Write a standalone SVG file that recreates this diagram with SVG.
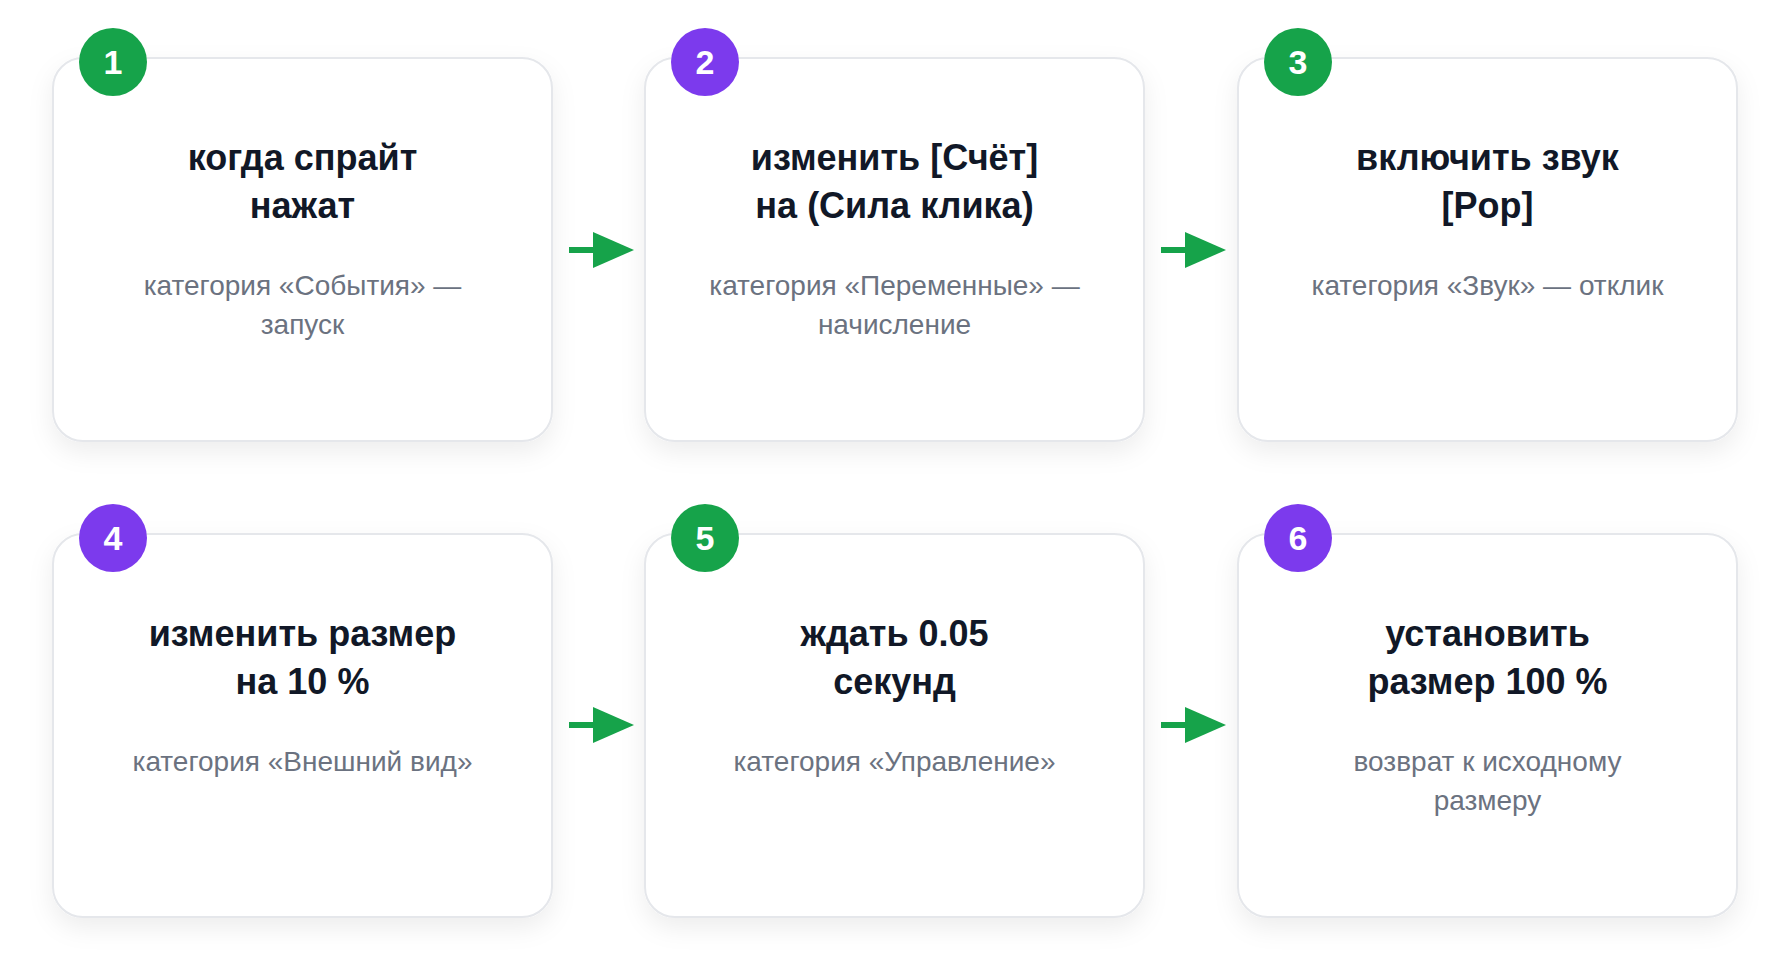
<svg xmlns="http://www.w3.org/2000/svg" width="1790" height="977" viewBox="0 0 1790 977">
<defs>
<filter id="sh" x="-20%" y="-20%" width="140%" height="150%">
<feDropShadow dx="0" dy="10" stdDeviation="12" flood-color="#0f172a" flood-opacity="0.07"/>
</filter>
<style>
.card{fill:#ffffff;stroke:#e5e7eb;stroke-width:2;filter:url(#sh)}
.t{font-family:"Liberation Sans",Arial,sans-serif;font-weight:700;font-size:36px;fill:#111827;text-anchor:middle}
.s{font-family:"Liberation Sans",Arial,sans-serif;font-size:28px;fill:#6b7280;text-anchor:middle}
.bn{font-family:"Liberation Sans",Arial,sans-serif;font-weight:700;font-size:34px;fill:#ffffff;text-anchor:middle}
.g{fill:#16a34a}
.p{fill:#7c3aed}
.ar{stroke:#16a34a;stroke-width:6;fill:none}
.ah{fill:#16a34a}
</style>
</defs>
<rect width="1790" height="977" fill="#ffffff"/>
<g id="connectors">
<line class="ar" x1="569" y1="250" x2="595" y2="250"/><polygon class="ah" points="593,232 634,250 593,268"/>
<line class="ar" x1="1161" y1="250" x2="1187" y2="250"/><polygon class="ah" points="1185,232 1226,250 1185,268"/>
<line class="ar" x1="569" y1="725" x2="595" y2="725"/><polygon class="ah" points="593,707 634,725 593,743"/>
<line class="ar" x1="1161" y1="725" x2="1187" y2="725"/><polygon class="ah" points="1185,707 1226,725 1185,743"/>
</g>
<g id="node1">
<rect class="card" x="53" y="58" width="499" height="383" rx="30"/>
<circle class="g" cx="113" cy="62" r="34"/><text class="bn" x="113" y="74">1</text>
<text class="t" x="302.5" y="170">когда спрайт</text>
<text class="t" x="302.5" y="218">нажат</text>
<text class="s" x="302.5" y="295">категория «События» —</text>
<text class="s" x="302.5" y="334">запуск</text>
</g>
<g id="node2">
<rect class="card" x="645" y="58" width="499" height="383" rx="30"/>
<circle class="p" cx="705" cy="62" r="34"/><text class="bn" x="705" y="74">2</text>
<text class="t" x="894.5" y="170">изменить [Счёт]</text>
<text class="t" x="894.5" y="218">на (Сила клика)</text>
<text class="s" x="894.5" y="295">категория «Переменные» —</text>
<text class="s" x="894.5" y="334">начисление</text>
</g>
<g id="node3">
<rect class="card" x="1238" y="58" width="499" height="383" rx="30"/>
<circle class="g" cx="1298" cy="62" r="34"/><text class="bn" x="1298" y="74">3</text>
<text class="t" x="1487.5" y="170">включить звук</text>
<text class="t" x="1487.5" y="218">[Pop]</text>
<text class="s" x="1487.5" y="295">категория «Звук» — отклик</text>
</g>
<g id="node4">
<rect class="card" x="53" y="534" width="499" height="383" rx="30"/>
<circle class="p" cx="113" cy="538" r="34"/><text class="bn" x="113" y="550">4</text>
<text class="t" x="302.5" y="646">изменить размер</text>
<text class="t" x="302.5" y="694">на 10 %</text>
<text class="s" x="302.5" y="771">категория «Внешний вид»</text>
</g>
<g id="node5">
<rect class="card" x="645" y="534" width="499" height="383" rx="30"/>
<circle class="g" cx="705" cy="538" r="34"/><text class="bn" x="705" y="550">5</text>
<text class="t" x="894.5" y="646">ждать 0.05</text>
<text class="t" x="894.5" y="694">секунд</text>
<text class="s" x="894.5" y="771">категория «Управление»</text>
</g>
<g id="node6">
<rect class="card" x="1238" y="534" width="499" height="383" rx="30"/>
<circle class="p" cx="1298" cy="538" r="34"/><text class="bn" x="1298" y="550">6</text>
<text class="t" x="1487.5" y="646">установить</text>
<text class="t" x="1487.5" y="694">размер 100 %</text>
<text class="s" x="1487.5" y="771">возврат к исходному</text>
<text class="s" x="1487.5" y="810">размеру</text>
</g>
</svg>
